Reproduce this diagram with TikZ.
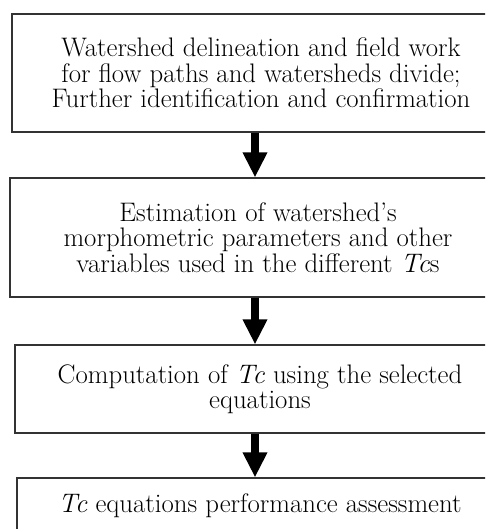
\documentclass[tikz,border=0pt]{standalone}
\usetikzlibrary{arrows.meta}
\begin{document}
\begin{tikzpicture}[x=1pt,y=-1pt,
  stepbox/.style={draw=black!80, line width=1.1pt, align=center, inner sep=0pt,
    font=\fontsize{26.8}{25.5}\selectfont},
  flowarrow/.style={line width=8pt, -{Triangle[width=23pt,length=25pt]}}]
\useasboundingbox (0,0) rectangle (485,529);
\clip (0,0) rectangle (485,529);
\fill[white] (0,0) rectangle (485,529);
\node[stepbox, minimum width=498pt, minimum height=118pt] (b1) at (261,73)
  {Watershed delineation and field work\\for flow paths and watersheds divide;\\Further identification and confirmation};
\node[stepbox, minimum width=496pt, minimum height=119pt] (b2) at (258,237.5)
  {Estimation of watershed's\\morphometric parameters and other\\variables used in the different \textit{Tc}s};
\node[stepbox, minimum width=490pt, minimum height=88pt] (b3) at (260,389)
  {Computation of \textit{Tc} using the selected\\equations};
\node[stepbox, minimum width=486pt, minimum height=56pt] (b4) at (260,506)
  {\textit{Tc} equations performance assessment};
\coordinate (ax) at (255,0);
\draw[flowarrow] (b1.south -| ax) -- (b2.north -| ax);
\draw[flowarrow] (b2.south -| ax) -- (b3.north -| ax);
\draw[flowarrow] (b3.south -| ax) -- (b4.north -| ax);
\end{tikzpicture}
\end{document}
